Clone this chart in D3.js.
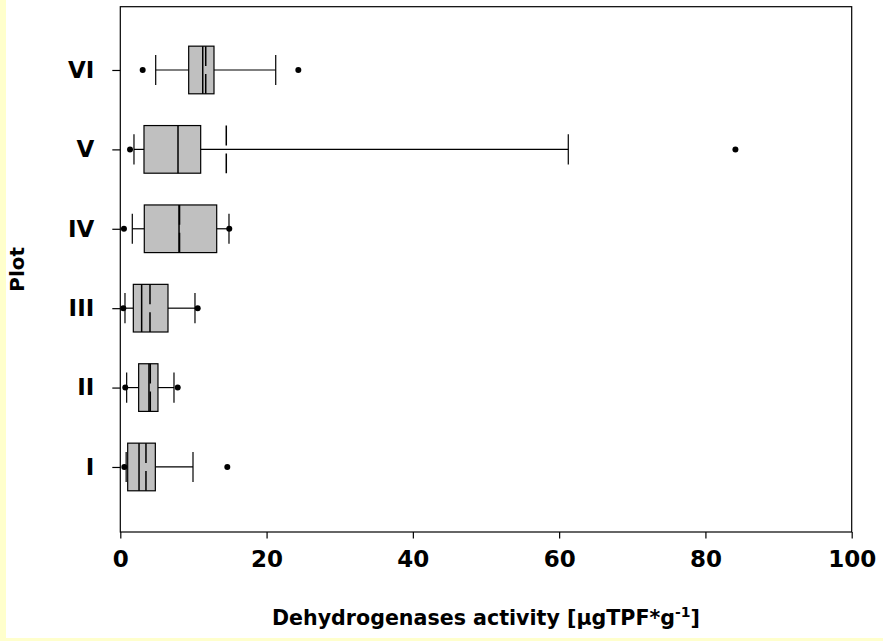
<!DOCTYPE html>
<html>
<head>
<meta charset="utf-8">
<script src="https://cdn.jsdelivr.net/npm/d3@7"></script>
<style>
  html, body { margin: 0; padding: 0; background: #ffffcc; }
  svg { display: block; }
</style>
</head>
<body>
<svg id="chart" width="883" height="641"></svg>
<script>
// ---- data ----
const categories   = ["I", "II", "III", "IV", "V", "VI"];
const lowerWhisker = [0.80, 0.87, 0.64, 1.64, 1.87, 4.84];
const q1           = [1.01, 2.51, 1.78, 3.28, 3.24, 9.35];
const median       = [2.56, 3.92, 2.92, 8.03, 7.89, 11.27];
const mean         = [3.51, 4.10, 4.06, 8.10, 14.49, 11.68];
const q3           = [4.79, 5.15, 6.52, 13.18, 10.99, 12.81];
const upperWhisker = [9.94, 7.34, 10.21, 14.86, 61.25, 21.25];
const outliers     = [[0.55, 14.63], [0.68, 7.85], [0.41, 10.58], [0.50, 14.90], [1.33, 84.10], [3.06, 24.34]];
const xTicks       = [0, 20, 40, 60, 80, 100];

(function () {
const svg = d3.select("#chart");
const W = 883, H = 641;

// white page with pale yellow strip on left and bottom
svg.append("rect").attr("x", 0).attr("y", 0).attr("width", W).attr("height", H).attr("fill", "#ffffcc");
svg.append("rect").attr("x", 6).attr("y", 0).attr("width", W - 6).attr("height", H - 3).attr("fill", "#ffffff");

const pL = 120.3, pR = 851.7, pT = 6.7, pB = 532;
const x = d3.scaleLinear().domain([0, 100]).range([pL, pR]);
const y = d3.scaleLinear().domain([0.181, 6.797]).range([pB, pT]);

const font = "'DejaVu Sans', Verdana, sans-serif";

// frame
svg.append("rect").attr("x", pL).attr("y", pT).attr("width", pR - pL).attr("height", pB - pT)
  .attr("fill", "none").attr("stroke", "#000").attr("stroke-width", 1.2);

// x axis
const xAxis = d3.axisBottom(x).tickValues(xTicks).tickSize(6.5).tickSizeOuter(0).tickPadding(12).tickFormat(d3.format("d"));
const gx = svg.append("g").attr("transform", `translate(0,${pB})`).call(xAxis);
gx.select(".domain").remove();
gx.selectAll("line").attr("stroke", "#000").attr("stroke-width", 1.2);
gx.selectAll("text").attr("font-family", font).attr("font-weight", "bold").attr("font-size", 23).attr("fill", "#000");

// y axis (category positions 1..6)
const yAxis = d3.axisLeft(y).tickValues(categories.map((c, i) => i + 1)).tickSize(8).tickSizeOuter(0).tickPadding(18)
  .tickFormat((d) => categories[d - 1]);
const gy = svg.append("g").attr("transform", `translate(${pL},0)`).call(yAxis);
gy.select(".domain").remove();
gy.selectAll("line").attr("stroke", "#000").attr("stroke-width", 1.2);
gy.selectAll("text").attr("font-family", font).attr("font-weight", "bold").attr("font-size", 23).attr("fill", "#000");

// boxes
const half = 0.30, capHalf = 0.19;
const g = svg.append("g");
categories.forEach((c, i) => {
  const v = i + 1;
  const cy = y(v), yt = y(v + half), yb = y(v - half);
  const ct = y(v + capHalf), cb = y(v - capHalf);
  const line = (x1, y1, x2, y2) => g.append("line").attr("x1", x1).attr("y1", y1).attr("x2", x2).attr("y2", y2)
    .attr("stroke", "#000").attr("stroke-width", 1.2);
  // whiskers
  line(x(lowerWhisker[i]), cy, x(q1[i]), cy);
  line(x(q3[i]), cy, x(upperWhisker[i]), cy);
  line(x(lowerWhisker[i]), ct, x(lowerWhisker[i]), cb);
  line(x(upperWhisker[i]), ct, x(upperWhisker[i]), cb);
  // box
  g.append("rect").attr("x", x(q1[i])).attr("y", yt).attr("width", x(q3[i]) - x(q1[i])).attr("height", yb - yt)
    .attr("fill", "#c0c0c0").attr("stroke", "#000").attr("stroke-width", 1.2);
  // median
  line(x(median[i]), yt, x(median[i]), yb).attr("stroke-width", 1.5);
  // mean (dashed, gap in the middle)
  const bh = yb - yt, gap = 8, dash = (bh - gap) / 2;
  line(x(mean[i]), yt, x(mean[i]), yb).attr("stroke-width", 1.5).attr("stroke-dasharray", `${dash},${gap}`);
  // outliers
  outliers[i].forEach((o) => {
    g.append("circle").attr("cx", x(o)).attr("cy", cy).attr("r", 3).attr("fill", "#000");
  });
});

// axis titles
const xt = svg.append("text").attr("x", (pL + pR) / 2).attr("y", 625).attr("text-anchor", "middle")
  .attr("font-family", font).attr("font-weight", "bold").attr("font-size", 20.6).attr("fill", "#000");
xt.append("tspan").text("Dehydrogenases activity [µgTPF*g");
xt.append("tspan").attr("font-size", 14).attr("dy", -8).text("-1");
xt.append("tspan").attr("dy", 8).text("]");

svg.append("text").attr("transform", `translate(24,${(pT + pB) / 2}) rotate(-90)`).attr("text-anchor", "middle")
  .attr("font-family", font).attr("font-weight", "bold").attr("font-size", 20).attr("fill", "#000").text("Plot");
})();
</script>
</body>
</html>
